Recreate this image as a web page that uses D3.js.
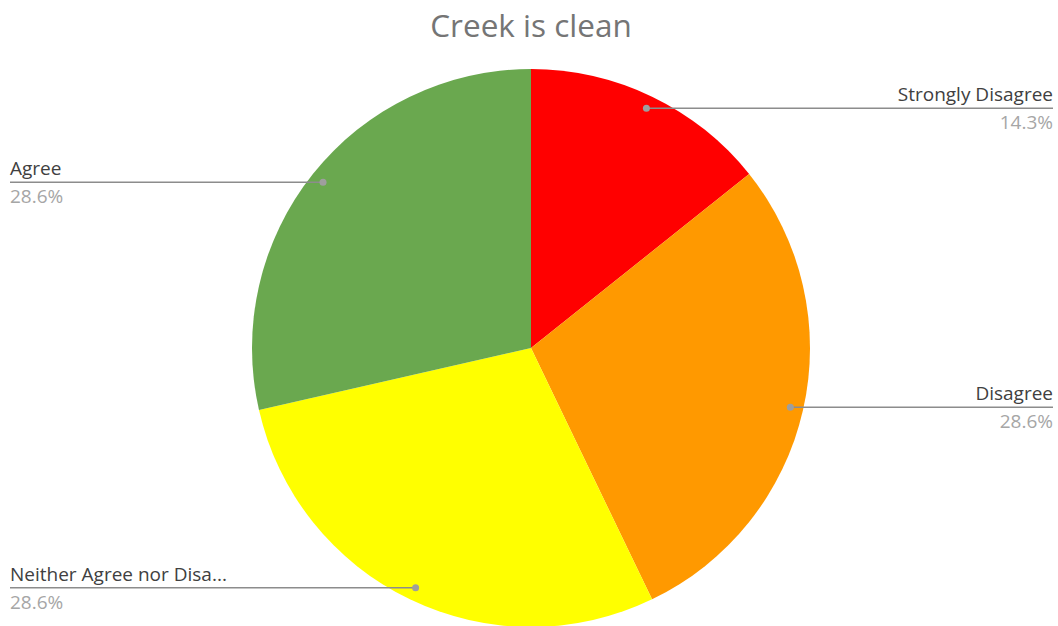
<!DOCTYPE html>
<html>
<head>
<meta charset="utf-8">
<script src="https://cdn.jsdelivr.net/npm/d3@7"></script>
<style>
  html, body { margin: 0; padding: 0; background: #ffffff; }
  svg { display: block; }
  text { font-family: "Open Sans", "Noto Sans", sans-serif; }
</style>
</head>
<body>
<svg id="chart" width="1058" height="626"></svg>
<script>
// Survey responses for "Creek is clean"
const categories = ["Strongly Disagree", "Disagree", "Neither Agree nor Disagree", "Agree"];
const displayNames = ["Strongly Disagree", "Disagree", "Neither Agree nor Disa...", "Agree"];
const counts = [1, 2, 2, 2];
const colors = ["#ff0000", "#ff9900", "#ffff00", "#6aa84f"];
const title = "Creek is clean";

const width = 1058, height = 626;
const cx = 531, cy = 348, radius = 279;

const svg = d3.select("#chart");

svg.append("text")
  .attr("x", cx)
  .attr("y", 37)
  .attr("text-anchor", "middle")
  .attr("fill", "#757575")
  .attr("font-size", 31.5)
  .text(title);

const total = d3.sum(counts);
const data = categories.map((c, i) => ({ name: c, label: displayNames[i], value: counts[i], color: colors[i] }));

const pie = d3.pie().value(d => d.value).sort(null);
const arcs = pie(data);

const arc = d3.arc().innerRadius(0).outerRadius(radius);
const anchorArc = d3.arc().innerRadius(266).outerRadius(266);

const g = svg.append("g").attr("transform", `translate(${cx},${cy})`);

g.selectAll("path.slice")
  .data(arcs)
  .join("path")
  .attr("class", "slice")
  .attr("d", arc)
  .attr("fill", d => d.data.color);

const fmt = d3.format(".1%");
const leftX = 10, rightX = 1053;

const labels = svg.append("g");
arcs.forEach(d => {
  const [ax, ay] = anchorArc.centroid(d);
  const px = cx + ax, py = cy + ay;
  const mid = (d.startAngle + d.endAngle) / 2;
  const right = mid < Math.PI;
  const endX = right ? rightX : leftX;

  labels.append("line")
    .attr("x1", px).attr("y1", py)
    .attr("x2", endX).attr("y2", py)
    .attr("stroke", "#8c8c8c")
    .attr("stroke-width", 1.5);
  labels.append("circle")
    .attr("cx", px).attr("cy", py)
    .attr("r", 3.5)
    .attr("fill", "#9e9e9e");

  labels.append("text")
    .attr("x", endX).attr("y", py - 7)
    .attr("text-anchor", right ? "end" : "start")
    .attr("fill", "#404040")
    .attr("font-size", 19)
    .text(d.data.label);
  labels.append("text")
    .attr("x", endX).attr("y", py + 21)
    .attr("text-anchor", right ? "end" : "start")
    .attr("fill", "#a6a6a6")
    .attr("font-size", 19)
    .text(fmt(d.data.value / total));
});
</script>
</body>
</html>
